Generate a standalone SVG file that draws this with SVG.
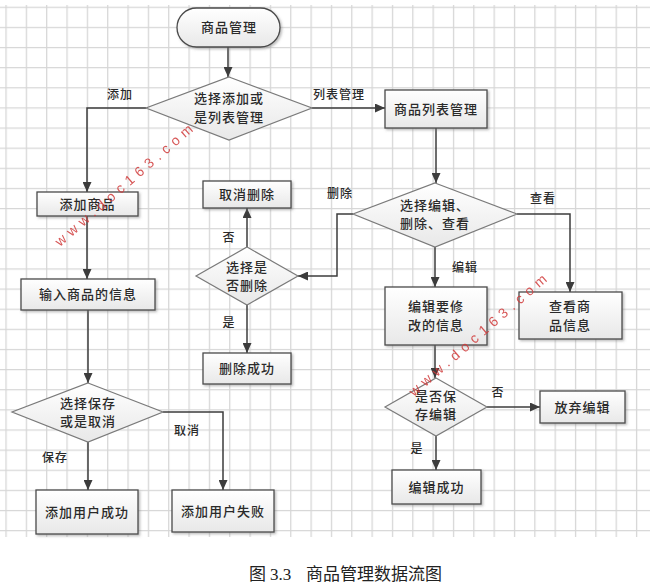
<svg xmlns="http://www.w3.org/2000/svg" width="650" height="585" viewBox="0 0 650 585">
<style>
.box{fill:url(#g);stroke:#4a4a4a;stroke-width:1.3;filter:url(#sh)}
.dia{fill:url(#g);stroke:#7a7a7a;stroke-width:1.2}
.t{font-family:"Noto Sans CJK SC","Liberation Sans",sans-serif;font-size:13px;font-weight:500;fill:#2a2a2a;text-anchor:middle;letter-spacing:1px}
.l{font-family:"Noto Sans CJK SC","Liberation Sans",sans-serif;font-size:12px;font-weight:500;fill:#2a2a2a;text-anchor:middle;letter-spacing:1px}
.e{fill:none;stroke:#3c3c3c;stroke-width:1.5;marker-end:url(#a)}
.wm{font-family:"Liberation Sans",sans-serif;font-size:14px;fill:#d03a3a;opacity:0.85;letter-spacing:5.2px}
</style>
<defs>
<pattern id="grid" patternUnits="userSpaceOnUse" x="5.4" y="6.7" width="20.34" height="20.13">
<path d="M0.6 0V20.13M0 0.6H20.34" stroke="#d6d6d6" stroke-width="1.3" fill="none"/>
</pattern>
<linearGradient id="g" x1="0" y1="0" x2="0" y2="1">
<stop offset="0" stop-color="#ffffff"/>
<stop offset="1" stop-color="#e8e8e8"/>
</linearGradient>
<filter id="sh" x="-10%" y="-10%" width="130%" height="140%">
<feDropShadow dx="1.5" dy="1.5" stdDeviation="0.8" flood-color="#777" flood-opacity="0.5"/>
</filter>
<marker id="a" markerUnits="userSpaceOnUse" markerWidth="10" markerHeight="9" refX="10" refY="4.5" orient="auto">
<path d="M0,0 L10,4.5 L0,9 z" fill="#3c3c3c"/>
</marker>
</defs>
<rect x="0" y="5" width="650" height="532" fill="url(#grid)"/>

<g id="connectors">
<path class="e" d="M228,47 V77"/>
<path class="e" d="M146,108 H87 V192"/>
<path class="e" d="M312,108 H385"/>
<path class="e" d="M436,128 V183"/>
<path class="e" d="M353,214 H337 V276 H298"/>
<path class="e" d="M517,214 H570 V292"/>
<path class="e" d="M435,247 V287"/>
<path class="e" d="M435,345 V378"/>
<path class="e" d="M487,407 H540"/>
<path class="e" d="M436,436 V470"/>
<path class="e" d="M247,247 V208"/>
<path class="e" d="M247,305 V353"/>
<path class="e" d="M87,216 V279"/>
<path class="e" d="M88,310 V383"/>
<path class="e" d="M163,412 H223 V490"/>
<path class="e" d="M88,442 V490"/>
<text class="l" x="120" y="98.5">添加</text>
<text class="l" x="339" y="98.5">列表管理</text>
<text class="l" x="340" y="197.5">删除</text>
<text class="l" x="543" y="202.5">查看</text>
<text class="l" x="465" y="271.5">编辑</text>
<text class="l" x="229" y="241.5">否</text>
<text class="l" x="229" y="326.5">是</text>
<text class="l" x="498" y="396.5">否</text>
<text class="l" x="417" y="452.5">是</text>
<text class="l" x="187" y="434.5">取消</text>
<text class="l" x="55" y="461.5">保存</text>
</g>

<g id="n_start"><rect class="box" x="177" y="8" width="103" height="39" rx="19.5"/><text class="t" x="229" y="32">商品管理</text></g>
<g id="n_d1"><polygon class="dia" points="229,77 312,108 229,140 146,108"/><text class="t" x="229" y="102.5">选择添加或</text><text class="t" x="229" y="121.5">是列表管理</text></g>
<g id="n_list"><rect class="box" x="385" y="90" width="102" height="38"/><text class="t" x="436" y="113.5">商品列表管理</text></g>
<g id="n_d2"><polygon class="dia" points="435,183 517,214 435,247 353,214"/><text class="t" x="435" y="209.5">选择编辑、</text><text class="t" x="435" y="227.5">删除、查看</text></g>
<g id="n_canceldel"><rect class="box" x="203" y="181" width="88" height="27"/><text class="t" x="247" y="199">取消删除</text></g>
<g id="n_d3"><polygon class="dia" points="247,247 298,276 247,305 196,276"/><text class="t" x="247" y="271.5">选择是</text><text class="t" x="247" y="289.5">否删除</text></g>
<g id="n_delok"><rect class="box" x="203" y="353" width="88" height="31"/><text class="t" x="247" y="373">删除成功</text></g>
<g id="n_edit"><rect class="box" x="385" y="287" width="102" height="58"/><text class="t" x="436" y="311">编辑要修</text><text class="t" x="436" y="329.5">改的信息</text></g>
<g id="n_view"><rect class="box" x="519" y="292" width="103" height="47"/><text class="t" x="570" y="311">查看商</text><text class="t" x="570" y="329.5">品信息</text></g>
<g id="n_d4"><polygon class="dia" points="436,378 487,407 436,436 385,407"/><text class="t" x="436" y="400.5">是否保</text><text class="t" x="436" y="419">存编辑</text></g>
<g id="n_abandon"><rect class="box" x="540" y="391" width="85" height="32"/><text class="t" x="582.5" y="411.5">放弃编辑</text></g>
<g id="n_editok"><rect class="box" x="392" y="470" width="89" height="34"/><text class="t" x="436.5" y="491.5">编辑成功</text></g>
<g id="n_add"><rect class="box" x="37" y="192" width="101" height="24"/><text class="t" x="87.5" y="208.5">添加商品</text></g>
<g id="n_input"><rect class="box" x="21" y="279" width="134" height="31"/><text class="t" x="88" y="299">输入商品的信息</text></g>
<g id="n_d5"><polygon class="dia" points="88,383 163,412 88,442 12,412"/><text class="t" x="88" y="407.5">选择保存</text><text class="t" x="88" y="425.5">或是取消</text></g>
<g id="n_addok"><rect class="box" x="36" y="490" width="102" height="44"/><text class="t" x="87" y="516.5">添加用户成功</text></g>
<g id="n_addfail"><rect class="box" x="172" y="490" width="102" height="42"/><text class="t" x="223" y="515.5">添加用户失败</text></g>

<text class="wm" transform="translate(60,247) rotate(-41)">www.doc163.com</text>
<text class="wm" transform="translate(414,397) rotate(-41)">www.doc163.com</text>

<text font-family="'Liberation Serif','Noto Sans CJK SC',serif" font-size="17" fill="#222" y="580"><tspan x="249">图</tspan><tspan x="270">3.3</tspan><tspan x="306">商品管理数据流图</tspan></text>
</svg>
